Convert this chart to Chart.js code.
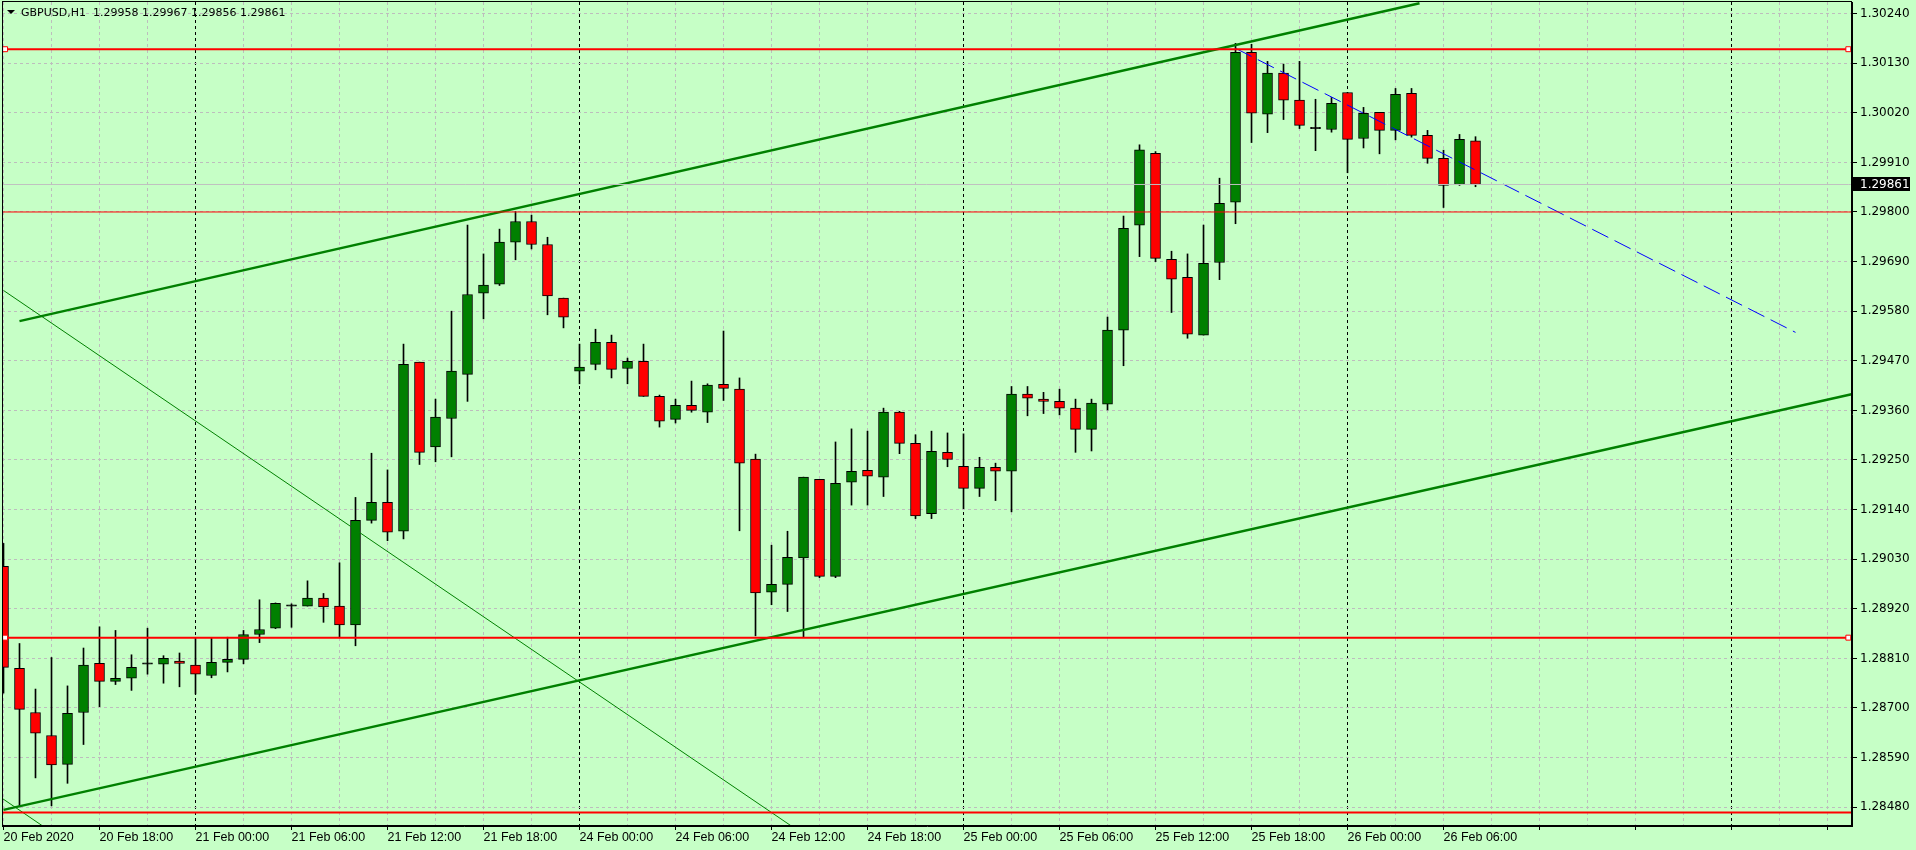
<!DOCTYPE html>
<html lang="en">
<head>
<meta charset="UTF-8">
<title>GBPUSD,H1</title>
<script src="https://cdn.jsdelivr.net/npm/chart.js@4.4.1/dist/chart.umd.min.js"></script>
<style>
  html, body { margin: 0; padding: 0; background: #c6ffc6; overflow: hidden; }
  #wrap { position: relative; width: 1916px; height: 850px; }
  #chart { display: block; }
  #tri { position: absolute; left: 7px; top: 10px; width: 0; height: 0;
         border-left: 4px solid transparent; border-right: 4px solid transparent; border-top: 4px solid #000; }
  #header { position: absolute; left: 21px; top: 6px; font: 11px "DejaVu Sans", sans-serif;
            line-height: 14px; color: #000; white-space: pre; }
</style>
</head>
<body>
<div id="wrap">
  <canvas id="chart" width="1916" height="850"></canvas>
  <div id="tri"></div>
  <div id="header">GBPUSD,H1  1.29958 1.29967 1.29856 1.29861</div>
</div>
<script>
  // H1 bars, first one is 20 Feb 12:00
  const openPrices = [
    1.29014, 1.28788, 1.28690, 1.28639, 1.28575, 1.28690, 1.28799, 1.28759, 1.28766, 1.28797,
    1.28797, 1.28804, 1.28795, 1.28772, 1.28801, 1.28808, 1.28863, 1.28877, 1.28926, 1.28926,
    1.28944, 1.28926, 1.28884, 1.29116, 1.29156, 1.29092, 1.29467, 1.29279, 1.29342, 1.29440,
    1.29620, 1.29640, 1.29733, 1.29779, 1.29728, 1.29609, 1.29447, 1.29462, 1.29511, 1.29453,
    1.29469, 1.29391, 1.29340, 1.29371, 1.29356, 1.29418, 1.29407, 1.29252, 1.28957, 1.28974,
    1.29033, 1.29207, 1.28992, 1.29201, 1.29227, 1.29212, 1.29356, 1.29287, 1.29131, 1.29267,
    1.29236, 1.29187, 1.29234, 1.29225, 1.29396, 1.29385, 1.29380, 1.29365, 1.29318, 1.29374,
    1.29538, 1.29771, 1.29930, 1.29695, 1.29655, 1.29527, 1.29688, 1.29822, 1.30154, 1.30017,
    1.30108, 1.30048, 1.29988, 1.29983, 1.30065, 1.29963, 1.30021, 1.29981, 1.30063, 1.29970,
    1.29919, 1.29861, 1.29958
  ];
  const highPrices = [
    1.29065, 1.28843, 1.28742, 1.28812, 1.28749, 1.28833, 1.28880, 1.28872, 1.28818, 1.28877,
    1.28816, 1.28822, 1.28855, 1.28855, 1.28857, 1.28872, 1.28940, 1.28933, 1.28931, 1.28982,
    1.28954, 1.29022, 1.29167, 1.29265, 1.29228, 1.29507, 1.29467, 1.29385, 1.29580, 1.29771,
    1.29707, 1.29762, 1.29801, 1.29793, 1.29744, 1.29609, 1.29507, 1.29540, 1.29527, 1.29476,
    1.29507, 1.29394, 1.29385, 1.29425, 1.29419, 1.29536, 1.29432, 1.29263, 1.29061, 1.29092,
    1.29212, 1.29207, 1.29290, 1.29319, 1.29314, 1.29365, 1.29358, 1.29306, 1.29314, 1.29310,
    1.29308, 1.29256, 1.29243, 1.29413, 1.29413, 1.29400, 1.29407, 1.29385, 1.29385, 1.29567,
    1.29791, 1.29949, 1.29934, 1.29713, 1.29707, 1.29771, 1.29875, 1.30174, 1.30172, 1.30134,
    1.30128, 1.30134, 1.30050, 1.30054, 1.30065, 1.30032, 1.30021, 1.30074, 1.30074, 1.29981,
    1.29937, 1.29972, 1.29967
  ];
  const lowPrices = [
    1.28733, 1.28481, 1.28545, 1.28483, 1.28533, 1.28619, 1.28703, 1.28752, 1.28739, 1.28775,
    1.28755, 1.28747, 1.28731, 1.28767, 1.28780, 1.28798, 1.28845, 1.28876, 1.28879, 1.28926,
    1.28890, 1.28856, 1.28838, 1.29110, 1.29071, 1.29075, 1.29240, 1.29246, 1.29257, 1.29380,
    1.29563, 1.29637, 1.29694, 1.29718, 1.29572, 1.29543, 1.29419, 1.29450, 1.29432, 1.29419,
    1.29391, 1.29323, 1.29332, 1.29356, 1.29333, 1.29382, 1.29093, 1.28860, 1.28929, 1.28914,
    1.28858, 1.28989, 1.28989, 1.29150, 1.29150, 1.29169, 1.29264, 1.29120, 1.29120, 1.29235,
    1.29142, 1.29169, 1.29160, 1.29135, 1.29348, 1.29353, 1.29350, 1.29267, 1.29270, 1.29361,
    1.29459, 1.29701, 1.29690, 1.29577, 1.29520, 1.29527, 1.29650, 1.29774, 1.29954, 1.29976,
    1.30005, 1.29985, 1.29936, 1.29977, 1.29887, 1.29942, 1.29929, 1.29960, 1.29966, 1.29908,
    1.29810, 1.29859, 1.29856
  ];
  const closePrices = [
    1.28790, 1.28697, 1.28644, 1.28574, 1.28688, 1.28795, 1.28759, 1.28766, 1.28790, 1.28800,
    1.28810, 1.28799, 1.28775, 1.28801, 1.28808, 1.28863, 1.28874, 1.28932, 1.28929, 1.28944,
    1.28924, 1.28884, 1.29116, 1.29156, 1.29090, 1.29462, 1.29267, 1.29345, 1.29447, 1.29617,
    1.29638, 1.29733, 1.29779, 1.29728, 1.29614, 1.29567, 1.29456, 1.29511, 1.29451, 1.29469,
    1.29391, 1.29336, 1.29371, 1.29360, 1.29416, 1.29409, 1.29243, 1.28955, 1.28974, 1.29034,
    1.29212, 1.28992, 1.29198, 1.29225, 1.29214, 1.29356, 1.29287, 1.29126, 1.29269, 1.29251,
    1.29187, 1.29234, 1.29225, 1.29396, 1.29387, 1.29380, 1.29365, 1.29318, 1.29376, 1.29538,
    1.29764, 1.29938, 1.29697, 1.29651, 1.29529, 1.29686, 1.29819, 1.30154, 1.30019, 1.30108,
    1.30048, 1.29992, 1.29985, 1.30041, 1.29961, 1.30019, 1.29981, 1.30061, 1.29970, 1.29919,
    1.29859, 1.29961, 1.29861
  ];

  // one label every 6 bars, starting at bar 0
  const timeLabels = [
    '20 Feb 2020', '20 Feb 18:00', '21 Feb 00:00', '21 Feb 06:00', '21 Feb 12:00', '21 Feb 18:00',
    '24 Feb 00:00', '24 Feb 06:00', '24 Feb 12:00', '24 Feb 18:00', '25 Feb 00:00', '25 Feb 06:00',
    '25 Feb 12:00', '25 Feb 18:00', '26 Feb 00:00', '26 Feb 06:00'
  ];
  const daySeparators = [12, 36, 60, 84, 108];
  const priceTicks = [
    1.28480, 1.28590, 1.28700, 1.28810, 1.28920, 1.29030, 1.29140, 1.29250, 1.29360,
    1.29470, 1.29580, 1.29690, 1.29800, 1.29910, 1.30020, 1.30130, 1.30240
  ];

  // horizontal levels and drawn objects (bar index, price)
  const levelPrices = [1.30161, 1.29800, 1.28856, 1.28468];
  const upperChannel = [[1, 1.29558], [88.5, 1.30263]];
  const lowerChannel = [[0, 1.28474], [115.5, 1.29396]];
  const thinLineA = [[0, 1.29626], [50, 1.28420]];
  const thinLineB = [[-0.1, 1.28500], [3, 1.28425]];
  const blueDashed = [[77, 1.30163], [112, 1.29533]];

  const lastClose = closePrices[closePrices.length - 1];
  const xMin = -0.09375, xMax = 115.53;
  const yMin = 1.284383, yMax = 1.302657;

  const idx = openPrices.map((_, i) => i);
  const bodyColor = idx.map(i => {
    const d = closePrices[i] - openPrices[i];
    if (Math.abs(d) < 0.000035) return '#000000';
    return d > 0 ? '#008000' : '#ff0000';
  });

  const toXY = pts => pts.map(p => ({ x: p[0], y: p[1] }));

  function levelLine(price, color, width, squares) {
    return {
      type: 'line',
      data: [
        { x: xMin, y: price }, { x: 0.1, y: price },
        { x: 115.3, y: price }, { x: xMax, y: price }
      ],
      borderColor: color,
      borderWidth: width,
      pointRadius: squares ? [0, 3.5, 3.5, 0] : 0,
      pointStyle: 'rect',
      pointBackgroundColor: '#ffffff',
      pointBorderColor: color,
      pointBorderWidth: 1,
      order: 0
    };
  }

  function trendLine(pts, color, width, dash) {
    return {
      type: 'line',
      data: toXY(pts),
      borderColor: color,
      borderWidth: width,
      borderDash: dash || [],
      pointRadius: 0,
      order: 0
    };
  }

  const framePlugin = {
    id: 'frame',
    afterDraw(chart) {
      const { ctx, chartArea: a, scales: { y } } = chart;
      ctx.save();
      ctx.strokeStyle = '#000';
      ctx.lineWidth = 1;
      ctx.strokeRect(a.left + 0.5, a.top - 0.5, a.right - a.left - 1, a.bottom - a.top);
      // current price tag
      const py = Math.round(y.getPixelForValue(lastClose));
      ctx.fillStyle = '#000';
      ctx.fillRect(a.right + 1, py - 7, 57, 14);
      ctx.fillStyle = '#fff';
      ctx.font = '12px "DejaVu Sans"';
      ctx.textBaseline = 'middle';
      ctx.fillText(lastClose.toFixed(5), a.right + 8, py + 0.5);
      ctx.restore();
    }
  };

  new Chart(document.getElementById('chart'), {
    type: 'bar',
    data: {
      datasets: [
        {
          // wicks
          data: idx.map(i => ({ x: i, y: [lowPrices[i], highPrices[i]] })),
          backgroundColor: '#000000',
          borderWidth: 0,
          barThickness: 1,
          grouped: false,
          order: 3
        },
        {
          // bodies
          data: idx.map(i => ({ x: i, y: [openPrices[i], closePrices[i]] })),
          backgroundColor: bodyColor,
          borderColor: '#000000',
          borderWidth: 1,
          borderSkipped: false,
          barThickness: 10,
          grouped: false,
          order: 2
        },
        levelLine(lastClose, '#c0c0c0', 1, false),
        levelLine(levelPrices[0], '#ff0000', 2, true),
        levelLine(levelPrices[1], '#ff0000', 1, false),
        levelLine(levelPrices[2], '#ff0000', 2, true),
        levelLine(levelPrices[3], '#ff0000', 2, false),
        trendLine(upperChannel, '#008000', 2.5),
        trendLine(lowerChannel, '#008000', 2.5),
        trendLine(thinLineA, '#008000', 1),
        trendLine(thinLineB, '#008000', 1),
        trendLine(blueDashed, '#0000ff', 1, [18, 7])
      ]
    },
    options: {
      responsive: false,
      animation: false,
      devicePixelRatio: 1,
      layout: { padding: { left: 2, top: 2, right: 0, bottom: 0 } },
      plugins: { legend: { display: false }, tooltip: { enabled: false } },
      scales: {
        x: {
          type: 'linear',
          min: xMin,
          max: xMax,
          offset: false,
          afterFit: s => { s.height = 24; s.paddingLeft = 0; s.paddingRight = 0; },
          afterBuildTicks: s => {
            const t = [];
            for (let v = 0; v <= 114; v += 3) t.push({ value: v });
            s.ticks = t;
          },
          grid: {
            offset: false,
            color: c => daySeparators.includes(c.tick && c.tick.value) ? '#000000' : '#bdbdbd',
            tickColor: c => (c.tick && c.tick.value % 6 === 0) ? '#000000' : 'rgba(0,0,0,0)',
            tickLength: 4,
            lineWidth: 1
          },
          border: { display: true, color: '#000', width: 1, dash: [3, 3] },
          ticks: {
            autoSkip: false,
            maxRotation: 0,
            minRotation: 0,
            align: 'start',
            padding: 0,
            color: '#000',
            font: { family: '"Liberation Sans", Arial', size: 12.5 },
            callback: v => v % 6 === 0 ? (timeLabels[v / 6] || '') : ''
          }
        },
        y: {
          type: 'linear',
          position: 'right',
          min: yMin,
          max: yMax,
          afterFit: s => { s.width = 64; s.paddingTop = 0; s.paddingBottom = 0; },
          afterBuildTicks: s => { s.ticks = priceTicks.map(v => ({ value: v })); },
          grid: {
            color: '#bdbdbd',
            tickColor: '#000000',
            tickLength: 5,
            lineWidth: 1
          },
          border: { display: true, color: '#000', width: 1, dash: [3, 3] },
          ticks: {
            autoSkip: false,
            padding: 3,
            crossAlign: 'near',
            color: '#000',
            font: { family: '"DejaVu Sans"', size: 12 },
            callback: v => v.toFixed(5)
          }
        }
      }
    },
    plugins: [framePlugin]
  });
</script>
</body>
</html>
